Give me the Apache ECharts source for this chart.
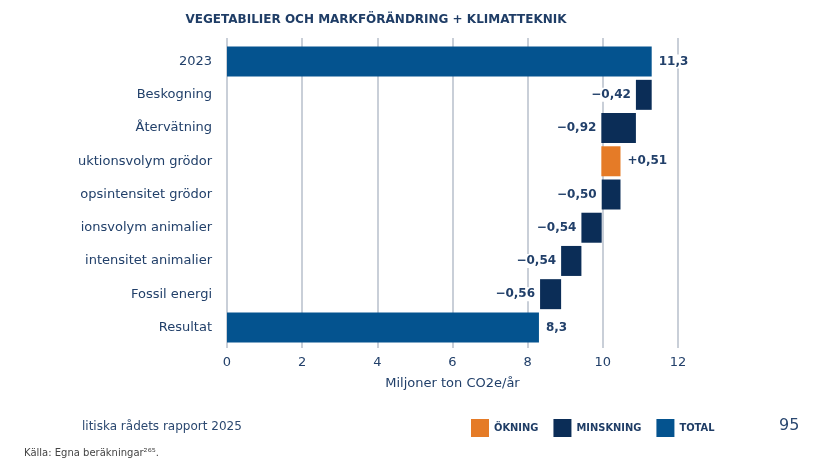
<!DOCTYPE html>
<html>
<head>
<meta charset="utf-8">
<script src="https://cdn.jsdelivr.net/npm/echarts@6/dist/echarts.min.js"></script>
<style>
  html, body { margin: 0; padding: 0; background: #fff; }
  #chart { width: 818px; height: 458px; }
</style>
</head>
<body>
<div id="chart"></div>
<script>
// kategorier (y-axel, uppifrån och ned)
var categories = ['2023', 'Beskogning', 'Återvätning', 'uktionsvolym grödor', 'opsintensitet grödor',
                  'ionsvolym animalier', 'intensitet animalier', 'Fossil energi', 'Resultat'];
// förändring per steg, null = totalstapel
var deltas = [null, -0.42, -0.92, 0.51, -0.50, -0.54, -0.54, -0.56, null];
// totaler
var totals = [11.3, null, null, null, null, null, null, null, 8.3];
var xTicks = [0, 2, 4, 6, 8, 10, 12];

var textColor = '#22406a';
var colTotal = '#04538f';
var colDown = '#0b2d57';
var colUp = '#e57b27';

// bygg vattenfallet
var base = [], up = [], down = [], tot = [];
var level = 0;
for (var i = 0; i < categories.length; i++) {
  if (deltas[i] === null) {
    level = totals[i];
    base.push(0); up.push('-'); down.push('-'); tot.push(totals[i]);
  } else if (deltas[i] >= 0) {
    base.push(level); up.push(deltas[i]); down.push('-'); tot.push('-');
    level = level + deltas[i];
  } else {
    level = level + deltas[i];
    base.push(level); up.push('-'); down.push(-deltas[i]); tot.push('-');
  }
}

function fmt(v, d) { return v.toFixed(d).replace('.', ','); }

var labelBase = {
  show: true,
  color: textColor,
  fontFamily: 'DejaVu Sans',
  fontSize: 12,
  fontWeight: 'bold',
  backgroundColor: '#fff',
  padding: [1, 2]
};

var myEchart = echarts.init(document.getElementById('chart'));
var option = {
  animation: false,
  title: [
    { text: 'VEGETABILIER OCH MARKFÖRÄNDRING + KLIMATTEKNIK', left: 371, top: 9, textAlign: 'center',
      textStyle: { fontFamily: 'DejaVu Sans', fontSize: 12, fontWeight: 'bold', color: '#1f3d66' } },
    { text: 'litiska rådets rapport 2025', left: 77, top: 416,
      textStyle: { fontFamily: 'DejaVu Sans', fontSize: 12, fontWeight: 'normal', color: '#2b4870' } },
    { text: 'Källa: Egna beräkningar²⁶⁵.', left: 19, top: 443,
      textStyle: { fontFamily: 'DejaVu Sans', fontSize: 10, fontWeight: 'normal', color: '#444' } },
    { text: '95', left: 774, top: 413,
      textStyle: { fontFamily: 'DejaVu Sans', fontSize: 16, fontWeight: 'normal', color: '#2b4870' } }
  ],
  legend: {
    data: ['ÖKNING', 'MINSKNING', 'TOTAL'],
    left: 466, top: 414,
    icon: 'rect', itemWidth: 18, itemHeight: 18, itemGap: 15,
    selectedMode: false,
    textStyle: { fontFamily: 'DejaVu Sans Condensed', fontSize: 11, fontWeight: 'bold', color: '#1f3d66' }
  },
  grid: [
    { left: 227, right: 140, top: 38, bottom: 110 },   // rutnätslinjer
    { left: 227, right: 140, top: 45, bottom: 114 }    // staplar
  ],
  xAxis: [
    { gridIndex: 0, type: 'value', min: 0, max: 12, interval: 2,
      axisLine: { show: false }, axisTick: { show: false }, axisLabel: { show: false },
      splitLine: { show: true, lineStyle: { color: '#c9cfd8', width: 2 } } },
    { gridIndex: 1, type: 'value', min: 0, max: 12, interval: 2,
      name: 'Miljoner ton CO2e/år', nameLocation: 'middle', nameGap: 33,
      nameTextStyle: { fontFamily: 'DejaVu Sans', fontSize: 13, color: textColor },
      axisLine: { show: false }, axisTick: { show: false },
      axisLabel: { fontFamily: 'DejaVu Sans', fontSize: 13, color: textColor, margin: 12,
        formatter: function (v) { return xTicks.indexOf(v) >= 0 ? String(v) : ''; } },
      splitLine: { show: false } }
  ],
  yAxis: [
    { gridIndex: 0, type: 'category', data: categories, show: false },
    { gridIndex: 1, type: 'category', inverse: true, data: categories,
      axisLine: { show: false }, axisTick: { show: false },
      axisLabel: { fontFamily: 'DejaVu Sans', fontSize: 13, color: textColor, margin: 15 } }
  ],
  series: [
    { name: 'bas', type: 'bar', stack: 'w', data: base, barWidth: 30, xAxisIndex: 1, yAxisIndex: 1,
      itemStyle: { color: 'transparent' }, silent: true },
    { name: 'ÖKNING', type: 'bar', stack: 'w', data: up, barWidth: 30, xAxisIndex: 1, yAxisIndex: 1,
      itemStyle: { color: colUp },
      label: Object.assign({}, labelBase, { position: 'right', distance: 5,
        formatter: function (p) { return '+' + fmt(p.value, 2); } }) },
    { name: 'MINSKNING', type: 'bar', stack: 'w', data: down, barWidth: 30, xAxisIndex: 1, yAxisIndex: 1,
      itemStyle: { color: colDown },
      label: Object.assign({}, labelBase, { position: 'left', distance: 3,
        formatter: function (p) { return '−' + fmt(p.value, 2); } }) },
    { name: 'TOTAL', type: 'bar', stack: 'w', data: tot, barWidth: 30, xAxisIndex: 1, yAxisIndex: 1,
      itemStyle: { color: colTotal },
      label: Object.assign({}, labelBase, { position: 'right', distance: 5,
        formatter: function (p) { return fmt(p.value, 1); } }) }
  ]
};
myEchart.setOption(option);
</script>
</body>
</html>
